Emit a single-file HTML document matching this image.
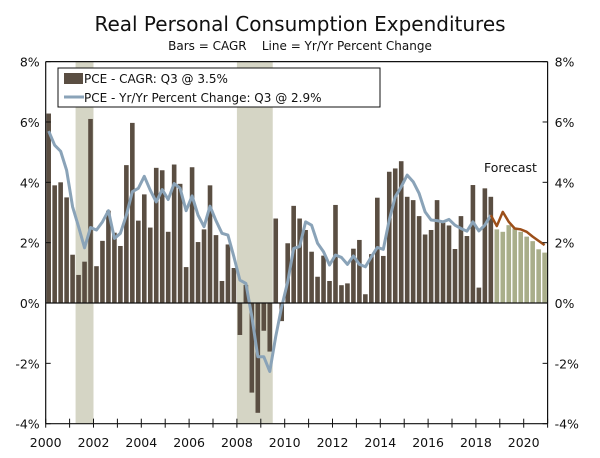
<!DOCTYPE html>
<html><head><meta charset="utf-8"><style>
body{margin:0;background:#fff;}
svg{display:block;font-family:"DejaVu Sans","Liberation Sans",sans-serif;}
</style></head><body>
<svg id="chart" width="600" height="458" viewBox="0 0 600 458" xmlns="http://www.w3.org/2000/svg">
<text x="300" y="31" text-anchor="middle" font-size="20" fill="#111">Real Personal Consumption Expenditures</text>
<text x="300" y="50" text-anchor="middle" font-size="12" fill="#111" style="white-space:pre" xml:space="preserve">Bars = CAGR    Line = Yr/Yr Percent Change</text>
<g id="recessions"></g>
<g id="bars"></g>
<g id="lines"></g>
<g id="axes"></g>
<text x="484" y="172" font-size="12.5" fill="#111">Forecast</text>
<g>
<rect x="58" y="68" width="322" height="39" fill="#fff" stroke="#111" stroke-width="1"/>
<g>
<rect x="64" y="73" width="19" height="11" fill="#5a4e42"/>
<text x="84" y="83" font-size="12" fill="#111">PCE - CAGR: Q3 @ 3.5%</text>
</g>
<g>
<line x1="64" y1="97" x2="84" y2="97" stroke="#8aa3b8" stroke-width="3"/>
<text x="84" y="102" font-size="12" fill="#111">PCE - Yr/Yr Percent Change: Q3 @ 2.9%</text>
</g>
</g>
</svg>
<script>
const startYear = 2000;
const cagrValues = [6.28,3.9,4.0,3.5, 1.6,0.93,1.37,6.1, 1.22,2.06,3.06,2.33, 1.89,4.57,5.97,2.73, 3.6,2.5,4.48,4.4, 2.36,4.59,3.95,1.19, 4.5,2.02,2.44,3.9, 2.25,0.73,1.94,1.16, -1.06,0.6,-2.97,-3.64, -0.92,-1.61,2.8,-0.6, 1.98,3.22,2.8,2.42, 1.7,0.87,1.57,0.73, 3.25,0.59,0.65,1.8, 2.09,0.29,1.62,3.49, 1.56,4.35,4.46,4.7, 3.52,3.41,2.88,2.27, 2.42,3.41,2.66,2.57, 1.79,2.88,2.22,3.91, 0.51,3.8,3.52];
const cagrForecast = [2.44,2.36,2.58,2.47,2.36,2.2,2.05,1.78,1.67];
const yoyValues = [5.7,5.23,5.03,4.4, 3.19,2.53,1.83,2.5, 2.42,2.69,3.06,2.14, 2.31,2.91,3.69,3.8, 4.2,3.74,3.35,3.76, 3.43,3.96,3.8,3.06, 3.55,2.91,2.53,3.21, 2.73,2.31,2.25,1.53, 0.76,0.65,-0.45,-1.78, -1.78,-2.27,-1.11,-0.12, 0.7,1.81,1.87,2.69, 2.58,1.98,1.7,1.26, 1.59,1.51,1.28,1.56, 1.28,1.2,1.53,1.84, 1.78,2.75,3.52,3.85, 4.24,4.02,3.63,3.02, 2.75,2.73,2.69,2.77, 2.58,2.47,2.38,2.69, 2.39,2.58,2.91];
const yoyForecast = [2.55,3.02,2.69,2.47,2.44,2.36,2.2,2.06,1.92];
const recessionStarts = [2001.25, 2008.0];
const recessionEnds = [2002.0, 2009.5];
const yTicks = [8,6,4,2,0,-2,-4];
const xTickLabels = [2000,2002,2004,2006,2008,2010,2012,2014,2016,2018,2020];

const NS="http://www.w3.org/2000/svg";
const X0=45.7, YW=23.9, Y0=303, PPU=30.17, XR=X0+21*YW;
const xYear=t=>X0+(t-startYear)*YW;
const xQ=i=>X0+YW*(i+0.5)/4;
const yV=v=>Y0-v*PPU;
function mk(tag,attrs,parent){const e=document.createElementNS(NS,tag);for(const k in attrs)e.setAttribute(k,attrs[k]);parent.appendChild(e);return e;}
const rec=document.getElementById('recessions'), bars=document.getElementById('bars'), lines=document.getElementById('lines'), axes=document.getElementById('axes');
recessionStarts.forEach((s,k)=>{
  const r=mk('rect',{x:xYear(s),y:yV(8),width:xYear(recessionEnds[k])-xYear(s),height:yV(-4)-yV(8),fill:'#d5d5c5'},rec);
  
  
});
function drawBar(i,v,color){
  const y1=Math.min(yV(v),Y0), h=Math.abs(yV(v)-Y0);
  const r=mk('rect',{x:xQ(i)-2.3,y:y1,width:4.6,height:h,fill:color},bars);
  
  
}
cagrValues.forEach((v,i)=>drawBar(i,v,'#5a4e42'));
cagrForecast.forEach((v,k)=>drawBar(cagrValues.length+k,v,'#a9ae8a'));
const z=mk('line',{x1:X0,y1:Y0,x2:XR,y2:Y0,stroke:'#111','stroke-width':1.2},axes);


const p1=mk('polyline',{points:yoyValues.map((v,i)=>xQ(i)+','+yV(v)).join(' '),fill:'none',stroke:'#8aa3b8','stroke-width':3,'stroke-linejoin':'round'},lines);


const n=yoyValues.length;
const fpts=[xQ(n-1)+','+yV(yoyValues[n-1])].concat(yoyForecast.map((v,k)=>xQ(n+k)+','+yV(v)));
const p2=mk('polyline',{points:fpts.join(' '),fill:'none',stroke:'#9c4f1a','stroke-width':2.5,'stroke-linejoin':'round'},lines);


mk('line',{x1:X0,y1:yV(8),x2:X0,y2:yV(-4),stroke:'#111','stroke-width':1.2},axes);
mk('line',{x1:XR,y1:yV(8),x2:XR,y2:yV(-4),stroke:'#111','stroke-width':1.2},axes);
mk('line',{x1:X0,y1:yV(8),x2:XR,y2:yV(8),stroke:'#111','stroke-width':1.2},axes);
mk('line',{x1:X0,y1:yV(-4),x2:XR,y2:yV(-4),stroke:'#111','stroke-width':1.2},axes);
yTicks.forEach(t=>{
  mk('line',{x1:X0,y1:yV(t),x2:X0+5,y2:yV(t),stroke:'#111'},axes);
  mk('line',{x1:XR-5,y1:yV(t),x2:XR,y2:yV(t),stroke:'#111'},axes);
  const a=mk('text',{x:X0-6,y:yV(t)+5,'text-anchor':'end','font-size':12.5,fill:'#111'},axes);
  a.textContent=t+'%';
  
  
  const b=mk('text',{x:XR+7,y:yV(t)+5,'text-anchor':'start','font-size':12.5,fill:'#111'},axes);
  b.textContent=t+'%';
  
  
});
for(let yr=startYear;yr<=startYear+21;yr++){
  mk('line',{x1:xYear(yr),y1:yV(-4)-5,x2:xYear(yr),y2:yV(-4)+4,stroke:'#111'},axes);
}
xTickLabels.forEach(yr=>{
  const t=mk('text',{x:xYear(yr),y:447,'text-anchor':'middle','font-size':12.5,fill:'#111'},axes);
  t.textContent=yr;
  
  
});
</script>
</body></html>
